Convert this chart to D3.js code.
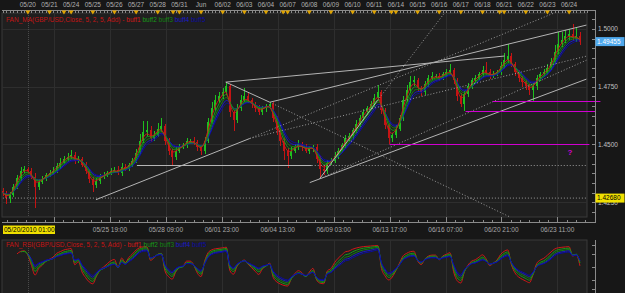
<!DOCTYPE html>
<html>
<head>
<meta charset="utf-8">
<script src="https://cdn.jsdelivr.net/npm/d3@7"></script>
<style>
html, body { margin: 0; padding: 0; background: #171717; overflow: hidden; }
svg { display: block; }
text { font-family: "Liberation Sans", Arial, sans-serif; }
</style>
</head>
<body>
<div id="chart"></div>
<script>
// ---- data -------------------------------------------------------------
// H4 bars, time in trading hours counted from 05/20 00:00 (weekends skipped)
const firstBarHour = -28, barStep = 4;
const firstOpen = 1.4300;
const closes = [
  1.4291,1.4269,1.4282,1.4317,1.4356,1.4387,1.4396,1.4387,1.4361,1.4317,
  1.4339,1.4352,1.4369,1.4378,1.4387,1.4409,1.4422,1.4439,1.4448,1.4456,
  1.4430,1.4439,1.4413,1.4387,1.4352,1.4326,1.4343,1.4361,1.4369,1.4378,
  1.4387,1.4391,1.4378,1.4404,1.4396,1.4413,1.4430,1.4465,1.4517,1.4552,
  1.4561,1.4526,1.4543,1.4569,1.4578,1.4517,1.4474,1.4448,1.4474,1.4491,
  1.4496,1.4517,1.4517,1.4509,1.4487,1.4474,1.4517,1.4596,1.4656,1.4691,
  1.4709,1.4726,1.4752,1.4639,1.4604,1.4656,1.4691,1.4709,1.4691,1.4674,
  1.4656,1.4639,1.4656,1.4665,1.4674,1.4613,1.4561,1.4517,1.4474,1.4452,
  1.4474,1.4491,1.4500,1.4491,1.4474,1.4483,1.4491,1.4439,1.4396,1.4387,
  1.4422,1.4430,1.4452,1.4474,1.4496,1.4526,1.4535,1.4561,1.4587,1.4613,
  1.4639,1.4656,1.4674,1.4700,1.4726,1.4648,1.4583,1.4526,1.4539,1.4569,
  1.4613,1.4691,1.4735,1.4769,1.4778,1.4743,1.4726,1.4761,1.4787,1.4796,
  1.4796,1.4787,1.4804,1.4813,1.4822,1.4778,1.4709,1.4674,1.4717,1.4752,
  1.4778,1.4787,1.4804,1.4822,1.4813,1.4796,1.4804,1.4813,1.4839,1.4865,
  1.4882,1.4848,1.4813,1.4787,1.4769,1.4752,1.4735,1.4752,1.4787,1.4804,
  1.4813,1.4830,1.4856,1.4900,1.4935,1.4952,1.4969,1.4978,1.4961,1.4969,
  1.49455
];
// wick length beyond the body, in pips
const wickUp = [
  10,8,12,14,10,16,12,8,10,14, 12,10,8,12,14,10,18,12,14,22,
  10,12,8,10,6,8,14,12,10,8, 12,10,14,16,10,8,12,14,30,50,
  40,20,16,22,35,12,10,8,14,10, 12,10,8,14,10,12,16,18,30,25,
  20,18,17,10,12,20,22,34,16,12, 10,14,12,10,10,8,10,8,12,10,
  14,12,18,10,12,10,8,10,12,14, 10,12,14,10,12,16,14,12,18,14,
  16,12,14,18,30,12,10,8,12,14, 16,20,22,27,18,12,10,14,12,16,
  10,14,12,16,26,10,8,12,14,16, 12,14,10,16,35,12,14,10,18,30,
  53,14,10,8,10,12,8,10,14,12, 16,18,20,30,50,35,25,20,45,40,
  20
];
const wickDown = [
  12,26,24,10,8,12,10,14,12,91, 16,12,10,8,12,10,14,8,10,12,
  14,10,12,16,18,30,14,12,10,8, 10,12,8,14,10,12,10,8,10,12,
  14,16,10,12,14,18,20,39,16,12, 10,12,14,10,16,20,14,10,8,12,
  10,14,12,20,45,12,10,8,12,14, 16,12,10,14,10,16,20,24,40,52,
  16,12,14,18,10,14,16,20,44,18, 14,12,10,14,10,12,10,14,12,10,
  12,10,8,12,10,18,16,22,14,12, 10,12,8,10,14,12,17,10,12,8,
  10,12,8,10,12,14,20,13,31,12, 10,12,8,10,14,12,10,8,12,10,
  12,14,16,18,20,16,22,48,14,10, 12,10,8,12,10,14,12,16,14,18,
  16
];

const dayLabels = ["05/20","05/21","05/24","05/25","05/26","05/27","05/28","05/31","Jun",
  "06/02","06/03","06/04","06/07","06/08","06/09","06/10","06/11","06/14","06/15",
  "06/16","06/17","06/18","06/21","06/22","06/23","06/24"];
const weekOpenHours = [40, 161, 283, 403, 523];
const timeLabels = ["05/25 19:00","05/28 09:00","06/01 23:00","06/04 13:00","06/09 03:00",
  "06/13 17:00","06/16 07:00","06/20 21:00","06/23 11:00"];
const gridHours = [29, 91, 153, 215, 277, 339, 401, 463, 525, 587];
const firstBarLabel = "05/20/2010 01:00";

const priceTicks = [1.5000, 1.4750, 1.4500, 1.4250];
const rsiTicks = [0, 20, 50, 80, 100];
const bidPrice = 1.49455;
const alertPrice = 1.4268;

const maPeriods = [2, 3, 4, 5, 6];
const rsiPeriods = [4, 5, 6, 7, 8];
const buffNames = ["buff1", "buff2", "buff3", "buff4", "buff5"];

// drawn objects: [hour1, price1, hour2, price2]
const solidLines = [
  [75.5, 1.4261, 246, 1.4526],
  [120.9, 1.4409, 314.7, 1.4409],
  [219.4, 1.4770, 268.2, 1.4683],
  [219.4, 1.4770, 528.4, 1.4883],
  [268.2, 1.4683, 619.2, 1.5017],
  [312.5, 1.4335, 619.2, 1.4783],
  [323.5, 1.4352, 387.7, 1.4691]
];
const dottedLines = [
  [246, 1.4526, 583.8, 1.5070],
  [246, 1.4526, 619.2, 1.48825],
  [268.2, 1.4683, 534, 1.4187],
  [387.7, 1.4691, 462, 1.5070],
  [323.5, 1.4352, 619.2, 1.4865],
  [314.7, 1.4409, 619.2, 1.4409],
  [-31, alertPrice, 619.2, alertPrice]
];
const levelLines = [
  [401, 1.4500, 622.5],
  [485.2, 1.4643, 629.2],
  [515.1, 1.4687, 634.7]
];
const markText = { hour: 601, price: 1.4465, text: "?" };

// ---- layout -------------------------------------------------------------
const W = 625, H = 293;
const plot = { left: 2, right: 587, top: 13, bottom: 217 };
const sub = { top: 240, bottom: 293 };
const axisX = 595;
const buffColors = ["#d01818", "#189a18", "#128212", "#1a1ac8", "#0c0ca0"];

const svg = d3.select("#chart").append("svg")
  .attr("width", W)
  .attr("height", H);

svg.append("rect").attr("width", W).attr("height", H).attr("fill", "#171717");

// scales
const x = d3.scaleLinear().domain([0, 24]).range([27.85, 27.85 + 21.65]);
const y = d3.scaleLinear().domain([1.41861, 1.50693]).range([plot.bottom, plot.top]);
const yr = d3.scaleLinear().domain([0, 100]).range([289, 245]);

// panels
svg.append("rect")
  .attr("x", plot.left).attr("y", plot.top)
  .attr("width", plot.right - plot.left).attr("height", plot.bottom - plot.top)
  .attr("fill", "#1f1f1f").attr("stroke", "#3a3a3a");
svg.append("rect")
  .attr("x", plot.left).attr("y", sub.top)
  .attr("width", plot.right - plot.left).attr("height", sub.bottom - sub.top + 5)
  .attr("fill", "#1f1f1f").attr("stroke", "#3a3a3a");

svg.append("clipPath").attr("id", "clipMain").append("rect")
  .attr("x", plot.left).attr("y", plot.top)
  .attr("width", plot.right - plot.left).attr("height", plot.bottom - plot.top);
svg.append("clipPath").attr("id", "clipSub").append("rect")
  .attr("x", plot.left).attr("y", sub.top)
  .attr("width", plot.right - plot.left).attr("height", sub.bottom - sub.top);

// grid
const grid = svg.append("g").attr("stroke", "#2e2e2e").attr("shape-rendering", "crispEdges");
gridHours.forEach(h => {
  const gx = Math.round(x(h)) + 0.5;
  grid.append("line").attr("x1", gx).attr("x2", gx).attr("y1", plot.top).attr("y2", plot.bottom);
  grid.append("line").attr("x1", gx).attr("x2", gx).attr("y1", sub.top).attr("y2", sub.bottom);
});
priceTicks.forEach(p => {
  const gy = Math.round(y(p)) + 0.5;
  grid.append("line").attr("x1", plot.left).attr("x2", plot.right).attr("y1", gy).attr("y2", gy);
});
// period separator
[0].forEach(h => {
  const gx = Math.round(x(h)) + 0.5;
  svg.append("line").attr("x1", gx).attr("x2", gx).attr("y1", plot.top).attr("y2", plot.bottom)
    .attr("stroke", "#4a4a4a").attr("stroke-dasharray", "1,1");
  svg.append("line").attr("x1", gx).attr("x2", gx).attr("y1", sub.top + 4).attr("y2", sub.bottom)
    .attr("stroke", "#4a4a4a").attr("stroke-dasharray", "1,1");
});

// ---- candles ---------------------------------------------------------------
const bars = closes.map((c, i) => {
  const o = i === 0 ? firstOpen : closes[i - 1];
  return {
    hour: firstBarHour + barStep * i,
    open: o,
    close: c,
    high: Math.max(o, c) + wickUp[i] / 10000,
    low: Math.min(o, c) - wickDown[i] / 10000
  };
});

const main = svg.append("g").attr("clip-path", "url(#clipMain)");
const candles = main.append("g").attr("shape-rendering", "crispEdges");
bars.forEach(b => {
  const cx = Math.round(x(b.hour));
  const col = b.close >= b.open ? "#1ec01e" : "#c41414";
  candles.append("rect")
    .attr("x", cx).attr("width", 1)
    .attr("y", y(b.high)).attr("height", Math.max(1, y(b.low) - y(b.high)))
    .attr("fill", col);
  const top = y(Math.max(b.open, b.close)), bot = y(Math.min(b.open, b.close));
  candles.append("rect")
    .attr("x", cx - 1).attr("width", 2)
    .attr("y", top).attr("height", Math.max(1, bot - top))
    .attr("fill", col);
});

// ---- FAN_MA buffers ------------------------------------------------------
function ema(values, n) {
  const k = 2 / (n + 1);
  let prev = values[0];
  return values.map(v => (prev = prev + k * (v - prev)));
}
const maLine = d3.line()
  .x((d, i) => x(bars[i].hour))
  .y(d => y(d))
  .curve(d3.curveBasis);
maPeriods.slice().reverse().forEach((n, j) => {
  const idx = maPeriods.length - 1 - j;
  main.append("path")
    .datum(ema(closes, n))
    .attr("d", maLine)
    .attr("fill", "none")
    .attr("stroke", buffColors[idx])
    .attr("stroke-width", 1);
});

// ---- drawn objects -----------------------------------------------------------
const objs = main.append("g");
solidLines.forEach(l => {
  objs.append("line")
    .attr("x1", x(l[0])).attr("y1", y(l[1])).attr("x2", x(l[2])).attr("y2", y(l[3]))
    .attr("stroke", "#b4b4b4").attr("stroke-width", 1);
});
dottedLines.forEach(l => {
  objs.append("line")
    .attr("x1", x(l[0])).attr("y1", y(l[1])).attr("x2", x(l[2])).attr("y2", y(l[3]))
    .attr("stroke", "#9a9a9a").attr("stroke-width", 1).attr("stroke-dasharray", "1,2");
});
levelLines.forEach(l => {
  svg.append("line")
    .attr("x1", x(l[0])).attr("x2", x(l[2]))
    .attr("y1", Math.round(y(l[1])) + 0.5).attr("y2", Math.round(y(l[1])) + 0.5)
    .attr("stroke", "#d000d0").attr("stroke-width", 1.2);
});
svg.append("text")
  .attr("x", x(markText.hour)).attr("y", y(markText.price))
  .attr("fill", "#d000d0").attr("font-size", 8).attr("font-weight", "bold")
  .attr("text-anchor", "middle").attr("dy", "0.35em")
  .text(markText.text);

// ---- FAN_RSI buffers -----------------------------------------------------------
function rsi(values, n) {
  const out = values.map(() => null);
  let gain = 0, loss = 0;
  for (let i = 1; i <= n; i++) {
    const d = values[i] - values[i - 1];
    if (d > 0) gain += d; else loss -= d;
  }
  gain /= n; loss /= n;
  out[n] = loss === 0 ? 100 : 100 - 100 / (1 + gain / loss);
  for (let i = n + 1; i < values.length; i++) {
    const d = values[i] - values[i - 1];
    gain = (gain * (n - 1) + Math.max(d, 0)) / n;
    loss = (loss * (n - 1) + Math.max(-d, 0)) / n;
    out[i] = loss === 0 ? 100 : 100 - 100 / (1 + gain / loss);
  }
  return out;
}
const subG = svg.append("g").attr("clip-path", "url(#clipSub)");
const rsiLine = d3.line()
  .defined(d => d !== null)
  .x((d, i) => x(bars[i].hour))
  .y(d => yr(d))
  .curve(d3.curveMonotoneX);
rsiPeriods.forEach((n, idx) => {
  subG.append("path")
    .datum(rsi(closes, n))
    .attr("d", rsiLine)
    .attr("fill", "none")
    .attr("stroke", buffColors[idx])
    .attr("stroke-width", 1);
});

// ---- legends -------------------------------------------------------------------
function legend(yy, name) {
  const t = svg.append("text").attr("x", 6).attr("y", yy).attr("font-size", 6.5);
  t.append("tspan").attr("fill", "#c41414").text(name + "(GBP/USD,Close, 5, 2, 5, Add) - ");
  buffNames.forEach((b, i) => {
    t.append("tspan").attr("fill", buffColors[i]).text(b + " ");
  });
}
legend(21.5, "FAN_MA");
legend(246.5, "FAN_RSI");

// ---- top date axis -----------------------------------------------------------
const axisCol = "#8a8a8a";
svg.append("line").attr("x1", plot.left).attr("x2", axisX).attr("y1", 10.5).attr("y2", 10.5)
  .attr("stroke", axisCol);
const topTicks = svg.append("g").attr("stroke", axisCol).attr("shape-rendering", "crispEdges");
for (let h = -28; h <= 620; h += 4) {
  const tx = Math.round(x(h)) + 0.5;
  topTicks.append("line").attr("x1", tx).attr("x2", tx).attr("y1", 10).attr("y2", 13);
}
dayLabels.forEach((d, i) => {
  svg.append("text")
    .attr("x", x(24 * i)).attr("y", 7)
    .attr("text-anchor", "middle").attr("font-size", 6.5).attr("fill", "#b0b0b0")
    .text(d);
});
const markHours = dayLabels.map((d, i) => 24 * i).concat(weekOpenHours);
markHours.forEach(h => {
  const mx = x(h);
  svg.append("path")
    .attr("d", `M${mx - 2.5},10.5 L${mx + 2.5},10.5 L${mx},14.5 Z`)
    .attr("fill", "#e0a400");
});

// ---- bottom time axis --------------------------------------------------------
svg.append("line").attr("x1", plot.left).attr("x2", axisX).attr("y1", 222.5).attr("y2", 222.5)
  .attr("stroke", axisCol);
const botTicks = svg.append("g").attr("stroke", axisCol).attr("shape-rendering", "crispEdges");
for (let k = -18; k <= 60; k++) {
  const h = gridHours[0] + k * 62 / 6;
  const tx = Math.round(x(h)) + 0.5;
  if (tx < plot.left || tx > plot.right) continue;
  const major = k % 6 === 0;
  botTicks.append("line").attr("x1", tx).attr("x2", tx)
    .attr("y1", major ? 217 : 219.5).attr("y2", 222);
}
timeLabels.forEach((t, i) => {
  svg.append("text")
    .attr("x", x(gridHours[i + 1])).attr("y", 232)
    .attr("text-anchor", "middle").attr("font-size", 6.5).attr("fill", "#a8a8a8")
    .text(t);
});
svg.append("rect").attr("x", 3).attr("y", 225.5).attr("width", 52).attr("height", 8.5).attr("fill", "#f0e000");
svg.append("text").attr("x", 4).attr("y", 232.3).attr("font-size", 6.5).attr("fill", "#000")
  .text(firstBarLabel);

// ---- right price axis ------------------------------------------------------
svg.append("line").attr("x1", axisX + 0.5).attr("x2", axisX + 0.5).attr("y1", 10).attr("y2", 223)
  .attr("stroke", axisCol);
svg.append("line").attr("x1", axisX + 0.5).attr("x2", axisX + 0.5).attr("y1", sub.top).attr("y2", H)
  .attr("stroke", axisCol);
const rTicks = svg.append("g").attr("stroke", axisCol).attr("shape-rendering", "crispEdges");
for (let p = 1.4250 - 0.025; p < 1.51; p += 0.025 / 6) {
  const ty = Math.round(y(p)) + 0.5;
  if (ty < plot.top || ty > plot.bottom) continue;
  rTicks.append("line").attr("x1", axisX - 3).attr("x2", axisX).attr("y1", ty).attr("y2", ty);
}
rsiTicks.forEach(v => {
  const ty = Math.round(yr(v)) + 0.5;
  rTicks.append("line").attr("x1", axisX - 3).attr("x2", axisX).attr("y1", ty).attr("y2", ty);
});
priceTicks.forEach(p => {
  svg.append("text")
    .attr("x", axisX + 3).attr("y", y(p)).attr("dy", "0.35em")
    .attr("font-size", 6.5).attr("fill", "#c0c0c0")
    .text(p.toFixed(4));
});
// bid label
svg.append("rect").attr("x", axisX + 0.5).attr("y", y(bidPrice) - 4.5).attr("width", 29).attr("height", 9)
  .attr("fill", "#4fa8ec");
svg.append("text").attr("x", axisX + 2).attr("y", y(bidPrice)).attr("dy", "0.35em")
  .attr("font-size", 6.5).attr("fill", "#ffffff").text(bidPrice.toFixed(5));
// alert label
svg.append("rect").attr("x", axisX + 0.5).attr("y", y(alertPrice) - 4.5).attr("width", 29).attr("height", 9)
  .attr("fill", "#f0e000");
svg.append("text").attr("x", axisX + 2).attr("y", y(alertPrice)).attr("dy", "0.35em")
  .attr("font-size", 6.5).attr("fill", "#000").text(alertPrice.toFixed(5));
</script>
</body>
</html>
